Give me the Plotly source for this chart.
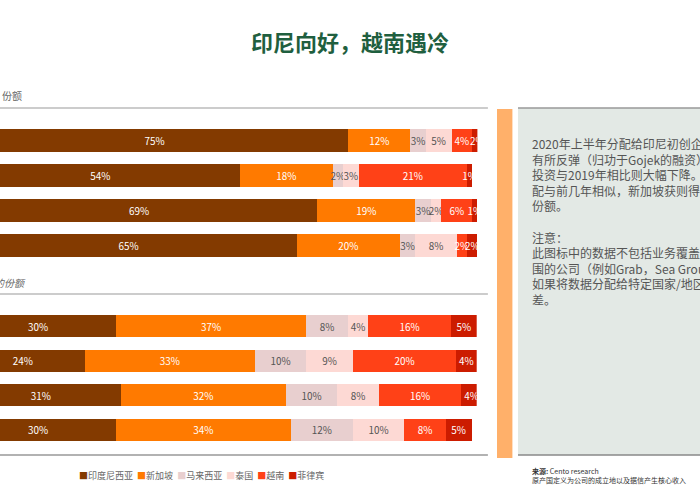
import plotly.graph_objects as go

COUNTRIES = ["印度尼西亚", "新加坡", "马来西亚", "泰国", "越南", "菲律宾"]
COLORS = ["#833a00", "#ff7a00", "#e8cfcf", "#fdd9d4", "#ff4117", "#cc1c00"]
TEXT_COLORS = ["white", "white", "#555555", "#555555", "white", "white"]

ROWS = ["r1", "r2", "r3", "r4"]
# top panel: share of funding amount, one list per country (rows top to bottom)
TOP_SHARES = [
    [75, 54, 69, 65],
    [12, 18, 19, 20],
    [3, 2, 3, 3],
    [5, 3, 2, 8],
    [4, 21, 6, 2],
    [2, 1, 1, 2],
]
# bottom panel: share of deal count
BOTTOM_SHARES = [
    [30, 24, 31, 30],
    [37, 33, 32, 34],
    [8, 10, 10, 12],
    [4, 9, 8, 10],
    [16, 20, 16, 8],
    [5, 4, 4, 5],
]

fig = go.Figure()
for i, name in enumerate(COUNTRIES):
    for vals, xa, ya in [(TOP_SHARES[i], "x", "y"), (BOTTOM_SHARES[i], "x2", "y2")]:
        fig.add_trace(go.Bar(
            y=ROWS, x=vals, orientation="h", name=name, xaxis=xa, yaxis=ya,
            marker=dict(color=COLORS[i], line=dict(width=0)),
            text=[f"{v}%" for v in vals], textposition="inside",
            insidetextanchor="middle", textangle=0,
            textfont=dict(color=TEXT_COLORS[i], size=10, family="Noto Sans CJK SC"),
            showlegend=False,
        ))

# legend drawn as one line of coloured squares
legend_text = "&nbsp;&nbsp;".join(
    f"<span style='color:{c}'>■</span>{n}" for n, c in zip(COUNTRIES, COLORS))

fig.update_layout(
    width=700, height=500, barmode="stack", bargap=0.36,
    margin=dict(l=0, r=0, t=0, b=0, autoexpand=False),
    paper_bgcolor="white", plot_bgcolor="white",
    font=dict(family="Noto Sans CJK SC", color="#555555"),
    uniformtext=dict(minsize=8, mode="show"),
    xaxis=dict(domain=[0, 0.682], range=[7.6, 100], visible=False),
    yaxis=dict(domain=[0.474, 0.754], autorange="reversed", visible=False),
    xaxis2=dict(domain=[0, 0.681], range=[7.6, 100], visible=False, anchor="y2"),
    yaxis2=dict(domain=[0.106, 0.382], autorange="reversed", visible=False, anchor="x2"),
    shapes=[
        dict(type="line", xref="paper", yref="paper", x0=0, x1=0.697, y0=0.784, y1=0.784,
             line=dict(color="#bbbbbb", width=1.5)),
        dict(type="line", xref="paper", yref="paper", x0=0, x1=0.697, y0=0.412, y1=0.412,
             line=dict(color="#999999", width=1)),
        dict(type="line", xref="paper", yref="paper", x0=0, x1=0.697, y0=0.09, y1=0.09,
             line=dict(color="#999999", width=1.5)),
        dict(type="rect", xref="paper", yref="paper", x0=0.71, x1=0.732, y0=0.084, y1=0.782,
             fillcolor="#ffb06a", line=dict(width=0)),
        dict(type="rect", xref="paper", yref="paper", x0=0.74, x1=1.0, y0=0.09, y1=0.784,
             fillcolor="#e3e9e5", line=dict(width=0)),
        dict(type="line", xref="paper", yref="paper", x0=0.74, x1=1.0, y0=0.784, y1=0.784,
             line=dict(color="#999999", width=1.5)),
        dict(type="line", xref="paper", yref="paper", x0=0.74, x1=1.0, y0=0.09, y1=0.09,
             line=dict(color="#888888", width=1.5)),
    ],
    annotations=[
        dict(text="<b>印尼向好，越南遇冷</b>", xref="paper", yref="paper", x=0.5, y=0.918,
             yanchor="middle", showarrow=False, font=dict(size=22, color="#1f5f3f")),
        dict(text="份额", xref="paper", yref="paper", x=0, y=0.79, xanchor="left",
             yanchor="bottom", showarrow=False, font=dict(size=10, color="#666666")),
        dict(text="<i>的份额</i>", xref="paper", yref="paper", x=-0.012, y=0.417, xanchor="left",
             yanchor="bottom", showarrow=False, font=dict(size=10, color="#666666")),
        dict(text=legend_text, xref="paper", yref="paper", x=0.11, y=0.05, xanchor="left",
             yanchor="middle", showarrow=False, font=dict(size=9, color="#666666")),
        dict(text="2020年上半年分配给印尼初创企业的<br>有所反弹（归功于Gojek的融资）<br>"
                  "投资与2019年相比则大幅下降。<br>配与前几年相似，新加坡获则得了<br>份额。<br><br>"
                  "注意：<br>此图标中的数据不包括业务覆盖东<br>围的公司（例如Grab，Sea Group<br>"
                  "如果将数据分配给特定国家/地区的<br>差。",
             xref="paper", yref="paper", x=0.757, y=0.735, xanchor="left", yanchor="top",
             align="left", showarrow=False, font=dict(size=12, color="#555555")),
        dict(text="<b>来源:</b> Cento research<br>原产国定义为公司的成立地以及据信产生核心收入",
             xref="paper", yref="paper", x=0.757, y=0.05, xanchor="left", yanchor="middle",
             align="left", showarrow=False, font=dict(size=7, color="#333333")),
    ],
)

fig.write_html("out.html", config={"displayModeBar": False},
               post_script="document.body.style.margin='0';")
